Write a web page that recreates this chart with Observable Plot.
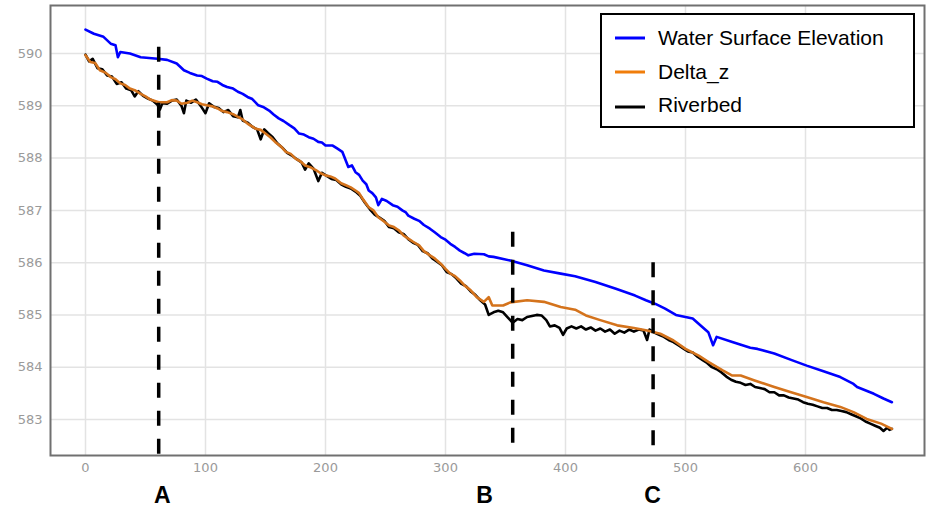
<!DOCTYPE html>
<html><head><meta charset="utf-8">
<script src="https://cdn.jsdelivr.net/npm/d3@7"></script>
<script src="https://cdn.jsdelivr.net/npm/@observablehq/plot@0.6"></script>
<style>
body{margin:0;background:#fff;}
#wrap{position:relative;width:928px;height:508px;}
#legend{position:absolute;left:0;top:0;pointer-events:none;}
</style></head>
<body><div id="wrap"></div>
<script>
// ---- data ----
const seriesNames = ["Water Surface Elevation", "Delta_z", "Riverbed"];
const seriesColors = ["#0000ff", "#d4731c", "#000000"];
const legendColors = ["#0000ff", "#f07d0a", "#000000"];

const wseX = [0,7,15,21,25,27,29,37,46,60,68,76,82,87,93,97,101,106,110,114,118,123,127,131,135,139,144,148,153,157,161,165,170,174,178,182,186,190,194,197,200,206,210,214,219,222,225,228,231,234,236,239,242,244,247,251,256,260,264,267,269,274,278,282,287,291,296,300,304,308,312,316,319,324,332,336,340,354,368,382,396,408,425,442,458,467,475,483,492,506,514,519,523,526,539,554,560,574,588,601,615,629,640,643,657,665,672];
const wseY = [590.46,590.38,590.32,590.19,590.16,589.93,590.03,590.0,589.93,589.90,589.88,589.81,589.68,589.63,589.58,589.57,589.52,589.47,589.46,589.40,589.36,589.33,589.27,589.23,589.17,589.13,589.01,588.98,588.91,588.83,588.76,588.71,588.63,588.57,588.47,588.45,588.40,588.37,588.31,588.30,588.24,588.24,588.18,588.12,587.83,587.86,587.73,587.68,587.57,587.50,587.38,587.33,587.25,587.10,587.22,587.18,587.10,587.07,587.0,586.96,586.9,586.84,586.80,586.72,586.65,586.58,586.49,586.44,586.36,586.30,586.23,586.18,586.14,586.17,586.16,586.12,586.11,586.04,585.95,585.85,585.79,585.74,585.63,585.5,585.37,585.28,585.21,585.12,585.0,584.93,584.77,584.67,584.42,584.58,584.48,584.37,584.35,584.26,584.14,584.03,583.92,583.81,583.68,583.62,583.49,583.40,583.33];

const dzX = [0,4,8,12,17,21,25,29,33,37,41,46,50,54,61,68,72,76,80,85,89,93,97,101,106,110,114,118,123,127,131,135,142,146,150,154,158,163,167,171,175,179,183,188,192,196,200,204,208,213,217,221,225,228,231,236,240,244,248,253,257,261,265,269,273,278,282,287,291,296,300,304,308,312,316,321,326,332,336,339,348,354,368,382,396,408,417,429,443,457,468,479,490,500,511,519,531,539,546,557,574,588,601,615,629,640,651,663,672];
const dzY = [589.97,589.84,589.82,589.68,589.63,589.55,589.51,589.43,589.40,589.33,589.30,589.23,589.18,589.12,589.07,589.07,589.11,589.10,589.04,589.06,589.10,589.07,589.03,589.01,588.99,588.95,588.90,588.88,588.84,588.79,588.74,588.66,588.56,588.54,588.47,588.40,588.31,588.22,588.12,588.08,587.99,587.94,587.86,587.82,587.77,587.71,587.67,587.65,587.61,587.52,587.48,587.44,587.38,587.33,587.22,587.06,587.00,586.87,586.80,586.71,586.68,586.62,586.52,586.46,586.40,586.33,586.22,586.14,586.08,585.98,585.88,585.79,585.74,585.66,585.56,585.47,585.34,585.25,585.34,585.18,585.18,585.24,585.28,585.25,585.15,585.10,584.99,584.9,584.8,584.75,584.70,584.64,584.51,584.35,584.22,584.10,583.94,583.84,583.84,583.75,583.62,583.52,583.43,583.33,583.24,583.14,583.01,582.92,582.82];

const bedX = [0,3,6,10,14,18,22,26,30,34,38,41,44,48,52,56,60,62,64,68,72,76,80,82,84,88,92,96,100,103,107,111,115,119,123,127,129,131,135,139,143,146,149,152,156,160,164,168,172,176,180,183,186,190,194,197,201,205,209,213,217,221,225,229,233,237,241,245,249,253,257,261,265,269,273,277,281,285,289,293,297,301,305,309,313,317,321,325,329,333,336,340,344,348,352,356,360,364,368,372,376,380,384,387,391,395,398,401,405,409,413,417,421,425,429,433,437,441,445,449,453,457,461,465,468,470,474,478,482,486,490,494,498,502,506,510,514,518,522,526,530,534,538,542,546,550,554,558,562,566,570,574,578,582,586,590,594,598,602,606,610,614,618,622,626,630,634,638,642,646,650,654,658,662,665,668,670,672];
const bedY = [589.98,589.85,589.90,589.72,589.70,589.58,589.56,589.42,589.45,589.33,589.30,589.18,589.28,589.19,589.14,589.10,589.02,588.93,589.05,589.04,589.10,589.12,589.00,588.86,589.10,589.06,589.12,589.00,588.86,589.05,588.98,588.96,588.88,588.92,588.80,588.78,588.92,588.72,588.68,588.60,588.55,588.36,588.55,588.48,588.40,588.28,588.20,588.10,588.05,587.98,587.92,587.78,587.90,587.80,587.56,587.72,587.66,587.60,587.58,587.50,587.45,587.42,587.36,587.28,587.14,587.02,586.92,586.86,586.80,586.68,586.66,586.58,586.55,586.45,586.38,586.34,586.22,586.18,586.08,586.02,585.95,585.82,585.78,585.70,585.60,585.55,585.45,585.38,585.28,585.20,585.00,585.05,585.08,585.05,584.95,584.85,584.92,584.90,584.96,584.98,585.00,584.99,584.90,584.78,584.80,584.75,584.62,584.74,584.78,584.74,584.78,584.72,584.76,584.70,584.74,584.68,584.72,584.64,584.70,584.66,584.72,584.68,584.72,584.70,584.52,584.72,584.66,584.62,584.58,584.52,584.48,584.42,584.36,584.30,584.28,584.20,584.14,584.08,584.00,583.96,583.90,583.82,583.76,583.72,583.70,583.66,583.68,583.62,583.60,583.58,583.52,583.52,583.46,583.46,583.42,583.40,583.38,583.33,583.30,583.28,583.25,583.22,583.22,583.18,583.18,583.16,583.14,583.10,583.06,583.02,582.96,582.92,582.88,582.84,582.78,582.84,582.80,582.82];

const sectionNames = ["A", "B", "C"];
const sectionX = [61, 356, 473];
const sectionTop = [590.12, 586.58, 586.0];
const sectionLabelX = [64, 332.5, 472.5];

const xTicks = [0,100,200,300,400,500,600];
const yTicks = [583,584,585,586,587,588,589,590];
const xDomain = [-29.17, 699.17];
const yDomain = [582.31, 590.92];

// ---- build ----
const wse = wseX.map((x,i)=>({x, y: wseY[i]}));
const dz = dzX.map((x,i)=>({x, y: dzY[i]}));
const bed = bedX.map((x,i)=>({x, y: bedY[i]}));
const sections = sectionNames.map((n,i)=>({name:n, x:sectionX[i], top:sectionTop[i], lx:sectionLabelX[i]}));

const chart = Plot.plot({
  width: 928, height: 508,
  marginLeft: 50, marginRight: 4, marginTop: 5, marginBottom: 53,
  x: {domain: xDomain},
  y: {domain: yDomain},
  style: {fontFamily: "'DejaVu Sans', Verdana, sans-serif", fontSize: "13px", color: "#9a9a9a", background: "#fff", overflow: "visible"},
  marks: [
    Plot.gridX(xTicks, {stroke: "#e3e3e3", strokeOpacity: 1, strokeWidth: 1.5}),
    Plot.gridY(yTicks, {stroke: "#e3e3e3", strokeOpacity: 1, strokeWidth: 1.5}),
    Plot.axisX(xTicks, {tickSize: 0, tickPadding: 7, label: null, color: "#9a9a9a", tickFormat: d => String(d)}),
    Plot.axisY(yTicks, {tickSize: 0, tickPadding: 8, label: null, color: "#9a9a9a", tickFormat: d => String(d)}),
    Plot.line(bed, {x: "x", y: "y", stroke: seriesColors[2], strokeWidth: 2.6}),
    Plot.line(dz, {x: "x", y: "y", stroke: seriesColors[1], strokeWidth: 2.6}),
    Plot.line(wse, {x: "x", y: "y", stroke: seriesColors[0], strokeWidth: 2.6}),
    Plot.ruleX(sections, {x: "x", y1: "top", y2: () => yDomain[0], stroke: "#000", strokeWidth: 3.5, strokeDasharray: "15,13"}),
    Plot.text(sections, {x: "lx", y: () => yDomain[0], dy: 40, text: "name", fill: "#000", fontWeight: "bold", fontSize: 23, fontFamily: "'Liberation Sans', Arial, sans-serif"}),
    Plot.frame({stroke: "#707070", strokeWidth: 2})
  ]
});
const wrap = document.getElementById("wrap");
wrap.appendChild(chart);

// legend overlay
const ns = "http://www.w3.org/2000/svg";
const lg = document.createElementNS(ns, "svg");
lg.setAttribute("id", "legend");
lg.setAttribute("width", 928); lg.setAttribute("height", 508);
const box = document.createElementNS(ns, "rect");
box.setAttribute("x", 601); box.setAttribute("y", 14);
box.setAttribute("width", 313); box.setAttribute("height", 113);
box.setAttribute("fill", "#fff"); box.setAttribute("stroke", "#000"); box.setAttribute("stroke-width", 2);
lg.appendChild(box);
const swY = [38, 72, 107];
const txY = [45, 79, 112];
seriesNames.forEach((n,i)=>{
  const l = document.createElementNS(ns, "line");
  l.setAttribute("x1", 615); l.setAttribute("x2", 645);
  l.setAttribute("y1", swY[i]); l.setAttribute("y2", swY[i]);
  l.setAttribute("stroke", legendColors[i]); l.setAttribute("stroke-width", 3);
  lg.appendChild(l);
  const t = document.createElementNS(ns, "text");
  t.setAttribute("x", 658); t.setAttribute("y", txY[i]);
  t.setAttribute("font-family", "'Liberation Sans', Arial, sans-serif");
  t.setAttribute("font-size", 21);
  t.setAttribute("fill", "#000");
  t.textContent = n;
  lg.appendChild(t);
});
wrap.appendChild(lg);
</script>
</body></html>
